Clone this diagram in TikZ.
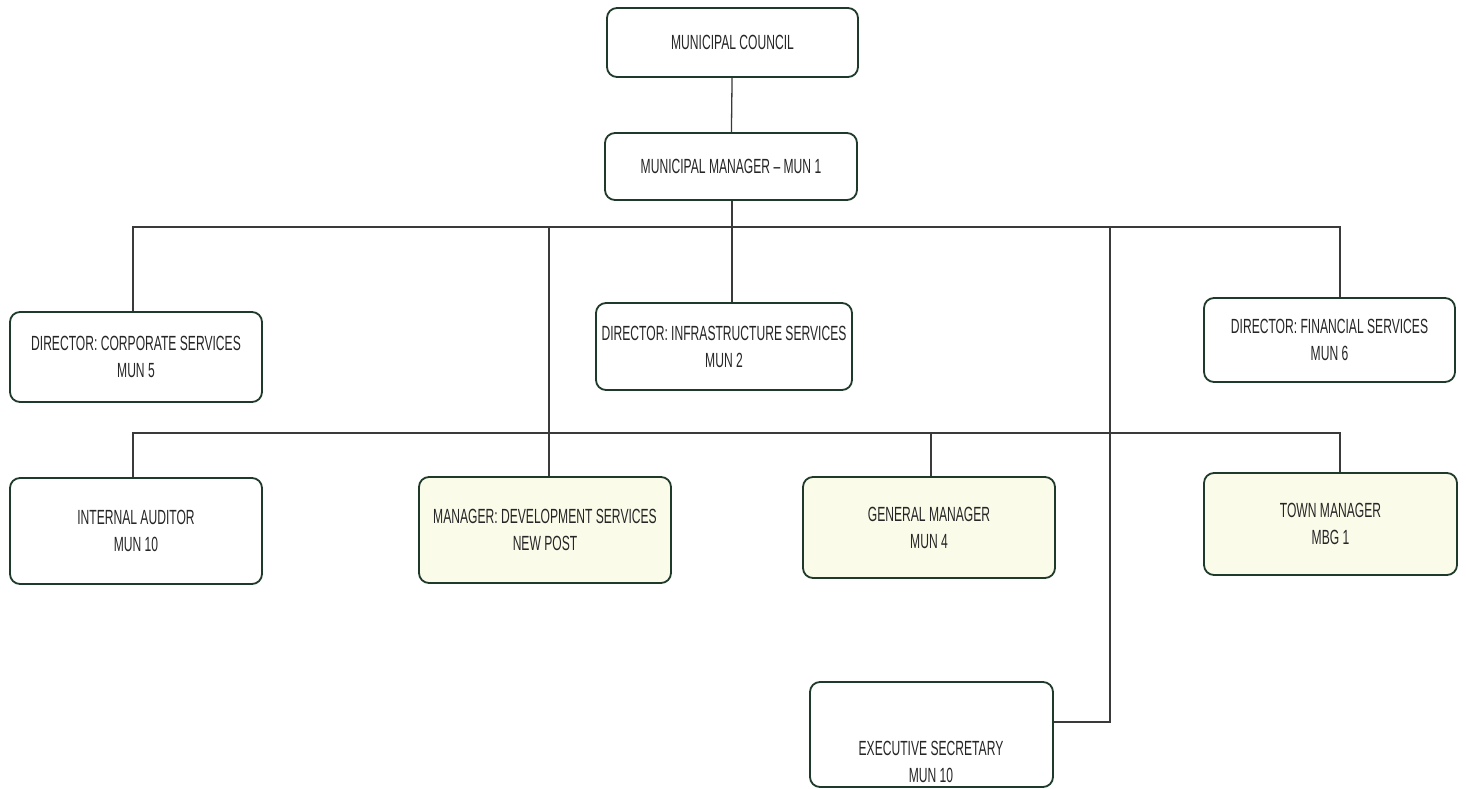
\documentclass[tikz,border=0pt]{standalone}
\usepackage{fontspec}
\newfontfamily\gfont[FakeStretch=0.59,Ligatures=TeX]{Liberation Sans}
\definecolor{boxc}{HTML}{1F3A2A}
\definecolor{linec}{HTML}{3A3A3A}
\definecolor{cream}{HTML}{FBFBE9}
\begin{document}
\begin{tikzpicture}[x=1pt,y=-1pt,
  box/.style={draw=boxc, line width=1.8pt, rounded corners=10pt, align=center,
    font=\gfont\fontsize{20.5}{27}\selectfont, text=black!85, inner sep=0pt},
  fbox/.style={box, fill=cream},
  conn/.style={draw=linec, line width=1.3pt}]
\useasboundingbox (0,0) rectangle (1466,789);
\fill[white] (0,0) rectangle (1466,789);
\clip (0,0) rectangle (1466,789);

% boxes
\node[box, minimum width=251pt, minimum height=69pt] (mc) at (732.5,42.5) {MUNICIPAL COUNCIL};
\node[box, minimum width=252pt, minimum height=67pt] (mm) at (731,166.5) {MUNICIPAL MANAGER – MUN 1};
\node[box, minimum width=252pt, minimum height=90pt] (corp) at (136,357) {DIRECTOR: CORPORATE SERVICES\\MUN 5};
\node[box, minimum width=256pt, minimum height=87pt] (infra) at (724,346.5) {DIRECTOR: INFRASTRUCTURE SERVICES\\MUN 2};
\node[box, minimum width=251pt, minimum height=84pt] (fin) at (1329.5,340) {DIRECTOR: FINANCIAL SERVICES\\MUN 6};
\node[box, minimum width=252pt, minimum height=106pt] (ia) at (136,531) {INTERNAL AUDITOR\\MUN 10};
\node[fbox, minimum width=252pt, minimum height=106pt] (dev) at (545,530) {MANAGER: DEVELOPMENT SERVICES\\NEW POST};
\node[fbox, minimum width=252pt, minimum height=101pt] (gm) at (929,527.5) {GENERAL MANAGER\\MUN 4};
\node[fbox, minimum width=253pt, minimum height=102pt] (tm) at (1330.5,524) {TOWN MANAGER\\MBG 1};
\node[box, minimum width=243pt, minimum height=105pt] (es) at (931.5,734.5) {};
\node[align=center, font=\gfont\fontsize{20.5}{27}\selectfont, text=black!85, inner sep=0pt] (estext) at (931,762) {EXECUTIVE SECRETARY\\MUN 10};

% junction coordinates
\coordinate (b1L) at (133,227);
\coordinate (b1R) at (1340,227);
\coordinate (b1M) at (732,227);
\coordinate (jd) at (549,227);
\coordinate (je) at (1110,227);
\coordinate (ej) at (1110,722);
\coordinate (b2L) at (133,433);
\coordinate (b2R) at (1340,433);
\coordinate (b2G) at (931,433);

% connectors
\draw[conn] (mc) -- (mm);
\draw[conn] (b1M |- mm.south) -- (b1M |- infra.north);
\draw[conn] (b1L |- corp.north) -- (b1L) -- (b1R) -- (b1R |- fin.north);
\draw[conn] (jd) -- (jd |- dev.north);
\draw[conn] (je) -- (ej) -- (ej -| es.east);
\draw[conn] (b2L |- ia.north) -- (b2L) -- (b2R) -- (b2R |- tm.north);
\draw[conn] (b2G) -- (b2G |- gm.north);
\end{tikzpicture}
\end{document}
